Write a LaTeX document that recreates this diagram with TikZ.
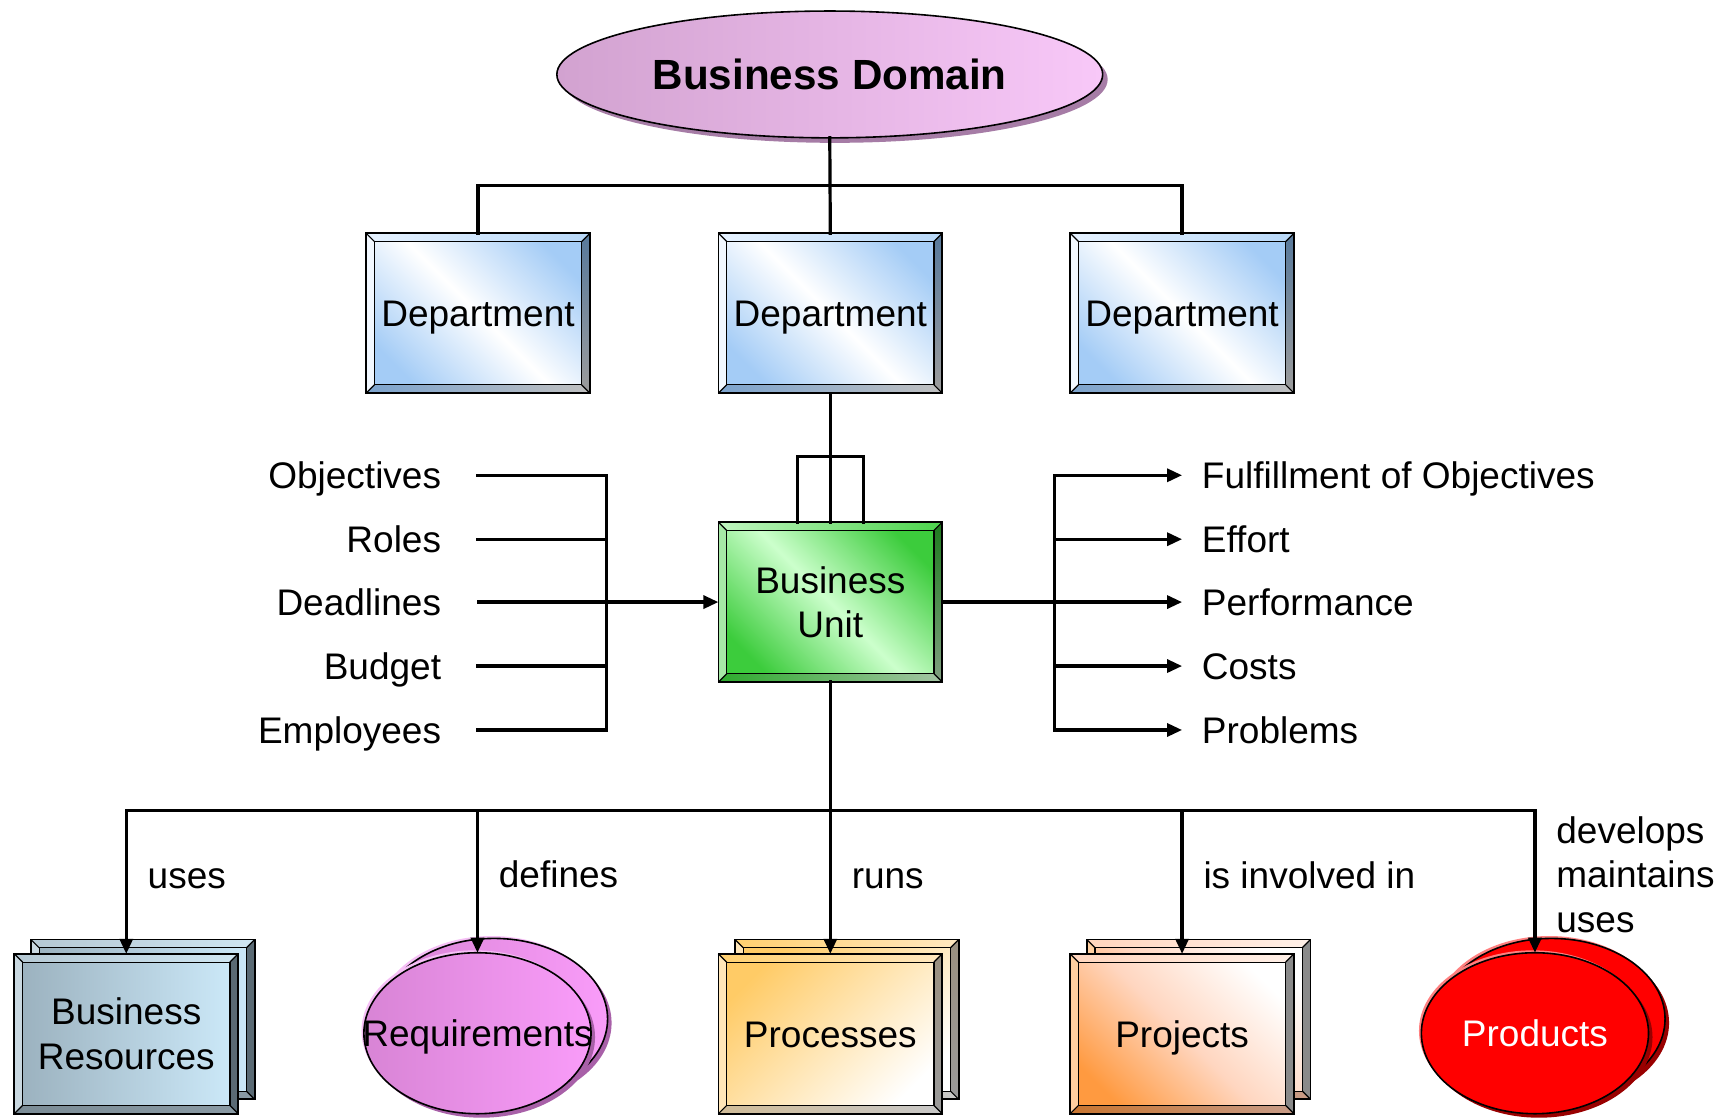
\documentclass[tikz,border=0pt]{standalone}
\usepackage{fontspec}
\setmainfont{Liberation Sans}
\usetikzlibrary{arrows.meta,calc,shapes.geometric,shadows}
\newcommand\upx{0.55135pt}
\definecolor{bdL}{HTML}{D2A2D0}\definecolor{bdR}{HTML}{F8C8F8}\definecolor{bdS}{HTML}{A67CA6}
\definecolor{deptB}{HTML}{A4CCF6}\definecolor{deptTL}{HTML}{E6F2FF}\definecolor{deptTR}{HTML}{B8D8F8}
\definecolor{deptRT}{HTML}{58799B}\definecolor{deptRB}{HTML}{9C9C9C}\definecolor{deptBL}{HTML}{7DA4CE}
\definecolor{deptBR}{HTML}{C0C0C0}\definecolor{deptL}{HTML}{F2F8FF}
\definecolor{buG}{HTML}{3CCC3C}\definecolor{buL}{HTML}{CCFFCC}\definecolor{buTL}{HTML}{C0F5C0}
\definecolor{buTR}{HTML}{4CD44C}\definecolor{buRT}{HTML}{1E7A1E}\definecolor{buRB}{HTML}{809F80}
\definecolor{buBL}{HTML}{2DAA2D}\definecolor{buBR}{HTML}{A5C5A5}\definecolor{buLe}{HTML}{A6E8A6}
\definecolor{brL}{HTML}{9AB0BD}\definecolor{brR}{HTML}{CDEAFA}\definecolor{brTL}{HTML}{B5C8D3}
\definecolor{brTR}{HTML}{CFE6F2}\definecolor{brRi}{HTML}{5A6A74}\definecolor{brBL}{HTML}{7B8C96}
\definecolor{brBR}{HTML}{8A9AA4}\definecolor{brLe}{HTML}{C9D8E0}
\definecolor{prY}{HTML}{FFCB66}\definecolor{prTL}{HTML}{FFD070}\definecolor{prTR}{HTML}{FFE8C0}
\definecolor{prRT}{HTML}{9A9080}\definecolor{prRB}{HTML}{9A9A9A}\definecolor{prBL}{HTML}{D0BC98}
\definecolor{prBR}{HTML}{C8C8C8}\definecolor{prLe}{HTML}{FFE6B8}
\definecolor{pjO}{HTML}{FF9A40}\definecolor{pjM}{HTML}{FFD6C0}\definecolor{pjTL}{HTML}{FFD5BD}
\definecolor{pjTR}{HTML}{FFF0E8}\definecolor{pjRi}{HTML}{8A8A8A}\definecolor{pjBL}{HTML}{C87530}
\definecolor{pjBR}{HTML}{C89C88}\definecolor{pjLe}{HTML}{FFCFA0}
\definecolor{reqL}{HTML}{D884D5}\definecolor{reqR}{HTML}{F99CF9}\definecolor{reqS}{HTML}{A860A8}
\definecolor{reqH}{HTML}{F6C0F6}
\definecolor{prodR}{HTML}{FF0000}\definecolor{prodS}{HTML}{990000}\definecolor{prodH}{HTML}{FF8080}
\newcommand\bevel[5]{%
  \path[#2] (#1.north west) -- (#1.north east) -- ($(#1.north east)+(-7.5,7.5)$) -- ($(#1.north west)+(7.5,7.5)$) -- cycle;
  \path[#3] (#1.north east) -- (#1.south east) -- ($(#1.south east)+(-7.5,-7.5)$) -- ($(#1.north east)+(-7.5,7.5)$) -- cycle;
  \path[#4] (#1.south east) -- (#1.south west) -- ($(#1.south west)+(7.5,-7.5)$) -- ($(#1.south east)+(-7.5,-7.5)$) -- cycle;
  \path[#5] (#1.south west) -- (#1.north west) -- ($(#1.north west)+(7.5,7.5)$) -- ($(#1.south west)+(7.5,-7.5)$) -- cycle;
  \draw[line width=0.6pt] ($(#1.north west)+(7.5,7.5)$) rectangle ($(#1.south east)+(-7.5,-7.5)$);
  \draw[line width=0.6pt] (#1.north west) -- ++(7.5,7.5) (#1.north east) -- ++(-7.5,7.5)
        (#1.south east) -- ++(-7.5,-7.5) (#1.south west) -- ++(7.5,-7.5);
  \draw[line width=0.9pt] (#1.north west) rectangle (#1.south east);
}
\newcommand\deptbevel[1]{\bevel{#1}{left color=deptTL,right color=deptTR}{top color=deptRT,bottom color=deptRB}{left color=deptBL,right color=deptBR}{fill=deptL}}
\newcommand\brbevel[1]{\bevel{#1}{left color=brTL,right color=brTR}{fill=brRi}{left color=brBL,right color=brBR}{fill=brLe}}
\newcommand\prbevel[1]{\bevel{#1}{left color=prTL,right color=prTR}{top color=prRT,bottom color=prRB}{left color=prBL,right color=prBR}{fill=prLe}}
\newcommand\pjbevel[1]{\bevel{#1}{left color=pjTL,right color=pjTR}{fill=pjRi}{left color=pjBL,right color=pjBR}{fill=pjLe}}
\tikzset{
  txt/.style={font=\fontsize{18.5}{22.2}\selectfont, align=center},
  sl/.style={text height=13.3pt, text depth=0pt},
  base/.style={txt, inner sep=0pt, outer sep=0pt},
  boxsz/.style={base, rectangle, minimum width=203*\upx, minimum height=145*\upx},
  deptbox/.style={boxsz, sl, top color=deptB, bottom color=deptB, middle color=white, shading angle=-45},
  bubox/.style={boxsz, top color=buG, bottom color=buG, middle color=buL, shading angle=-45},
  brbox/.style={boxsz, left color=brL, right color=brR},
  prbox/.style={boxsz, sl, top color=prY, bottom color=white, shading angle=45},
  pjbox/.style={boxsz, sl, top color=white, bottom color=pjO, middle color=pjM, shading angle=-45},
  ellsz/.style={base, ellipse, draw, line width=0.8pt, minimum width=206*\upx, minimum height=146*\upx},
  reqell/.style={ellsz, left color=reqL, right color=reqR,
    drop shadow={fill=reqH, opacity=1, shadow xshift=-1.2pt, shadow yshift=1.2pt},
    drop shadow={fill=reqS, opacity=1, shadow xshift=2pt, shadow yshift=-2pt}},
  prodell/.style={ellsz, sl, fill=prodR, text=white,
    drop shadow={fill=prodH, opacity=1, shadow xshift=-1.2pt, shadow yshift=1.2pt},
    drop shadow={fill=prodS, opacity=1, shadow xshift=2pt, shadow yshift=-2pt}},
  bdell/.style={base, ellipse, draw, line width=0.8pt, minimum width=495*\upx, minimum height=115*\upx,
    left color=bdL, right color=bdR, font=\fontsize{21.1}{25}\selectfont\bfseries,
    drop shadow={fill=bdS, opacity=1, shadow xshift=2.5pt, shadow yshift=-2.5pt}},
  llbl/.style={txt, sl, anchor=east, inner xsep=33*\upx, inner ysep=0pt, outer sep=0pt},
  rlbl/.style={txt, sl, anchor=west, inner xsep=18*\upx, inner ysep=0pt, outer sep=0pt},
  elbl/.style={txt, align=left, anchor=west, inner xsep=18*\upx, inner ysep=0pt},
  conn/.style={line width=1.6pt, line cap=rect},
  arr/.style={line width=1.6pt, -{Triangle[length=7.5pt,width=6.5pt]}},
}
\begin{document}
\begin{tikzpicture}[x=\upx, y=-\upx]
\useasboundingbox (0,0) rectangle (1568,1014);

% top
\node[bdell] (bd) at (752.5,67.5) {Business Domain};
\node[deptbox] (d1) at (433.5,284) {Department}; \deptbevel{d1}
\node[deptbox] (d2) at (753,284) {Department}; \deptbevel{d2}
\node[deptbox] (d3) at (1072,284) {Department}; \deptbevel{d3}

% business unit
\node[bubox] (bu) at (753,546) {Business\\Unit};
\bevel{bu}{left color=buTL,right color=buTR}{top color=buRT,bottom color=buRB}{left color=buBL,right color=buBR}{fill=buLe}

% left labels
\node[llbl] (obj) at (433,431) {Objectives};
\node[llbl] (rol) at (433,489) {Roles};
\node[llbl] (dead) at (433,546) {Deadlines};
\node[llbl] (bud) at (433,604) {Budget};
\node[llbl] (emp) at (433,662) {Employees};

% right labels
\node[rlbl] (ful) at (1072,431) {Fulfillment of Objectives};
\node[rlbl] (eff) at (1072,489) {Effort};
\node[rlbl] (perf) at (1072,546) {Performance};
\node[rlbl] (cost) at (1072,604) {Costs};
\node[rlbl] (prob) at (1072,662) {Problems};

% bottom shapes
\node[brbox] (brb) at (129.5,924.5) {}; \brbevel{brb}
\node[brbox] (br) at (114.5,937.5) {Business\\Resources}; \brbevel{br}
\node[reqell] (reqb) at (448,924) {};
\node[reqell, label={[txt, sl, inner sep=0pt]center:Requirements}] (req) at (433,937) {};
\node[prbox] (prcb) at (768,924.5) {}; \prbevel{prcb}
\node[prbox] (prc) at (753,937.5) {Processes}; \prbevel{prc}
\node[pjbox] (prjb) at (1087,924.5) {}; \pjbevel{prjb}
\node[pjbox] (prj) at (1072,937.5) {Projects}; \pjbevel{prj}
\node[prodell] (prodb) at (1407,924) {};
\node[prodell] (prod) at (1392,937) {Products};

% connectors top
\coordinate (jtop) at (753,168);
\draw[conn] (bd.south) -- (d2.north);
\draw[conn] (d1.north) |- (jtop) -| (d3.north);
\coordinate (tri) at (753,414);
\draw[conn] (d2.south) -- (bu.north);
\draw[conn] ($(bu.north)+(-30,0)$) |- (tri) -| ($(bu.north)+(30,0)$);

% left bus
\coordinate (lbus) at (550,546);
\foreach \n in {obj,rol,bud,emp} \draw[conn] (\n.east) -- (\n.east -| lbus);
\draw[conn] (obj.east -| lbus) -- (emp.east -| lbus);
\draw[arr] (dead.east) -- (bu.west);

% right bus
\coordinate (rbus) at (956,546);
\draw[arr] (bu.east) -- (perf.west);
\foreach \n in {ful,eff,cost,prob} \draw[arr] (\n.west -| rbus) -- (\n.west);
\draw[conn] (ful.west -| rbus) -- (prob.west -| rbus);

% bottom bus
\coordinate (hb) at (753,735);
\draw[conn] (bu.south) -- (hb);
\draw[conn] (br.north |- hb) -- (prod.north |- hb);
\draw[arr] (br.north |- hb) -- node[elbl, sl, pos=.45] {uses} (br.north);
\draw[arr] (req.north |- hb) -- node[elbl, sl, pos=.45] {defines} (req.north);
\draw[arr] (prc.north |- hb) -- node[elbl, sl, pos=.45] {runs} (prc.north);
\draw[arr] (prj.north |- hb) -- node[elbl, sl, pos=.45] {is involved in} (prj.north);
\draw[arr] (prod.north |- hb) -- node[elbl, pos=.45] {develops\\maintains\\uses} (prod.north);
\end{tikzpicture}
\end{document}
